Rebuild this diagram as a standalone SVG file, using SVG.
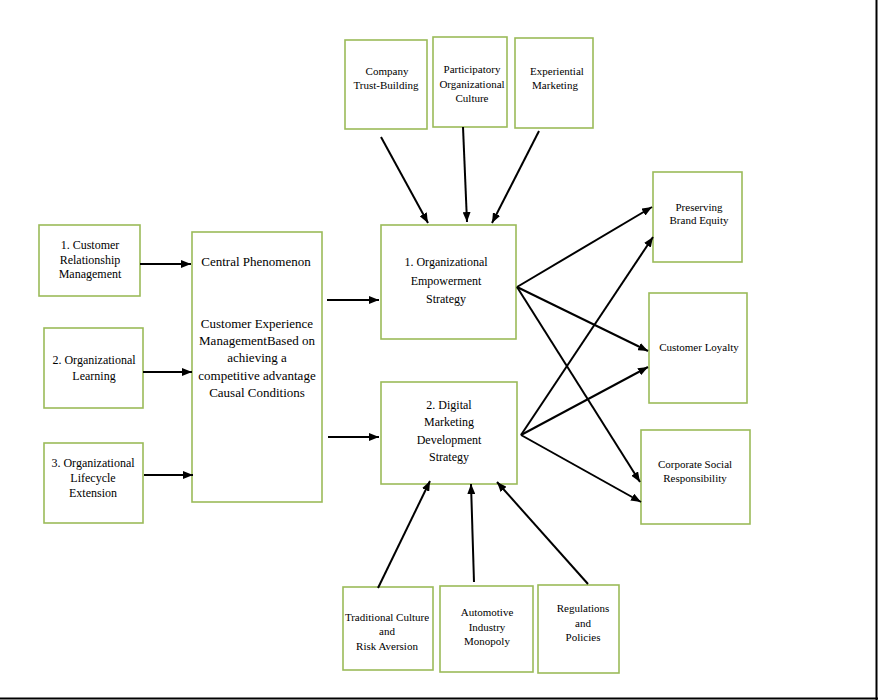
<svg xmlns="http://www.w3.org/2000/svg" width="878" height="700" viewBox="0 0 878 700">
<defs>
<marker id="ah" markerUnits="userSpaceOnUse" markerWidth="10" markerHeight="8" refX="10" refY="4" orient="auto">
<path d="M0,0 L10,4 L0,8 Z" fill="#000"/>
</marker>
<style>
.box{fill:#fff;stroke:#9bbb59;stroke-width:1.6}
.t{font-family:"Liberation Serif","Times New Roman",serif;font-size:11px;fill:#000;text-anchor:middle}
.m{font-size:12px}
.l{font-size:13px}
.c{stroke:#000;stroke-width:2;fill:none;marker-end:url(#ah)}
</style>
</defs>
<rect width="878" height="700" fill="#fff"/>
<line x1="0" y1="698.5" x2="878" y2="698.5" stroke="#000" stroke-width="2"/>
<line x1="876.5" y1="0" x2="876.5" y2="700" stroke="#000" stroke-width="2"/>

<g id="crm"><rect class="box" x="39" y="225" width="101" height="71"/>
<text class="t m" x="90"><tspan x="90" y="249">1. Customer</tspan><tspan x="90" y="264">Relationship</tspan><tspan x="90" y="278">Management</tspan></text></g>
<g id="learning"><rect class="box" x="44" y="328" width="99" height="80"/>
<text class="t m" x="94"><tspan x="94" y="364">2. Organizational</tspan><tspan x="94" y="380">Learning</tspan></text></g>
<g id="lifecycle"><rect class="box" x="44" y="443" width="99" height="80"/>
<text class="t m" x="93"><tspan x="93" y="467">3. Organizational</tspan><tspan x="93" y="482">Lifecycle</tspan><tspan x="93" y="497">Extension</tspan></text></g>

<g id="central"><rect class="box" x="192" y="232" width="130" height="270"/>
<text class="t l" x="256"><tspan x="256" y="266">Central Phenomenon</tspan><tspan x="257" y="328">Customer Experience</tspan><tspan x="257" y="345">ManagementBased on</tspan><tspan x="257" y="362">achieving a</tspan><tspan x="257" y="380">competitive advantage</tspan><tspan x="257" y="397">Causal Conditions</tspan></text></g>

<g id="trust"><rect class="box" x="345" y="40" width="82" height="89"/>
<text class="t"><tspan x="387" y="75">Company</tspan><tspan x="386" y="89">Trust-Building</tspan></text></g>
<g id="participatory"><rect class="box" x="433" y="37" width="74" height="90"/>
<text class="t"><tspan x="472" y="73">Participatory</tspan><tspan x="472" y="88">Organizational</tspan><tspan x="472" y="102">Culture</tspan></text></g>
<g id="experiential"><rect class="box" x="515" y="38" width="78" height="90"/>
<text class="t"><tspan x="557" y="75">Experiential</tspan><tspan x="555" y="89">Marketing</tspan></text></g>

<g id="s1"><rect class="box" x="381" y="225" width="135" height="114"/>
<text class="t m"><tspan x="446" y="266">1. Organizational</tspan><tspan x="446" y="285">Empowerment</tspan><tspan x="446" y="303">Strategy</tspan></text></g>
<g id="s2"><rect class="box" x="381" y="382" width="136" height="102"/>
<text class="t m"><tspan x="449" y="409">2. Digital</tspan><tspan x="449" y="426">Marketing</tspan><tspan x="449" y="444">Development</tspan><tspan x="449" y="461">Strategy</tspan></text></g>

<g id="brand"><rect class="box" x="653" y="172" width="89" height="90"/>
<text class="t"><tspan x="699" y="211">Preserving</tspan><tspan x="699" y="224">Brand Equity</tspan></text></g>
<g id="loyalty"><rect class="box" x="649" y="293" width="98" height="110"/>
<text class="t"><tspan x="699" y="351">Customer Loyalty</tspan></text></g>
<g id="csr"><rect class="box" x="641" y="430" width="109" height="94"/>
<text class="t"><tspan x="695" y="468">Corporate Social</tspan><tspan x="695" y="482">Responsibility</tspan></text></g>

<g id="traditional"><rect class="box" x="343" y="587" width="90" height="83"/>
<text class="t"><tspan x="387" y="621">Traditional Culture</tspan><tspan x="387" y="635">and</tspan><tspan x="387" y="650">Risk Aversion</tspan></text></g>
<g id="automotive"><rect class="box" x="440" y="586" width="93" height="86"/>
<text class="t"><tspan x="487" y="616">Automotive</tspan><tspan x="487" y="631">Industry</tspan><tspan x="487" y="645">Monopoly</tspan></text></g>
<g id="regulations"><rect class="box" x="538" y="585" width="81" height="88"/>
<text class="t"><tspan x="583" y="612">Regulations</tspan><tspan x="583" y="627">and</tspan><tspan x="583" y="641">Policies</tspan></text></g>

<g id="connectors">
<line class="c" x1="140" y1="264" x2="191" y2="264"/>
<line class="c" x1="143" y1="372" x2="192" y2="372"/>
<line class="c" x1="144" y1="475" x2="193" y2="475"/>
<line class="c" x1="327" y1="300" x2="379" y2="300"/>
<line class="c" x1="328" y1="437" x2="379" y2="437"/>
<line class="c" x1="381" y1="137" x2="428" y2="223"/>
<line class="c" x1="463" y1="127" x2="467" y2="222"/>
<line class="c" x1="539" y1="131" x2="492" y2="223"/>
<line class="c" x1="517" y1="287" x2="652" y2="207"/>
<line class="c" x1="517" y1="287" x2="648" y2="351"/>
<line class="c" x1="517" y1="287" x2="640" y2="482"/>
<line class="c" x1="521" y1="435" x2="653" y2="237"/>
<line class="c" x1="521" y1="435" x2="648" y2="367"/>
<line class="c" x1="521" y1="435" x2="641" y2="502"/>
<line class="c" x1="378" y1="588" x2="430" y2="481"/>
<line class="c" x1="474" y1="582" x2="471" y2="484"/>
<line class="c" x1="588" y1="584" x2="497" y2="482"/>
</g>
</svg>
